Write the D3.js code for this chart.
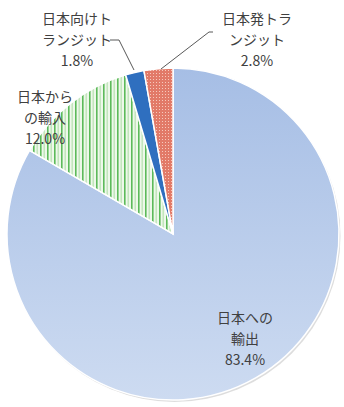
<html>
<head>
<meta charset="utf-8">
<title>日本との貿易</title>
<style>
  body { margin: 0; background: #fff; }
  .lbl { font-family: "Noto Sans CJK JP", sans-serif; font-size: 14px; fill: #404040; text-anchor: middle; }
</style>
</head>
<body>
<script src="https://cdn.jsdelivr.net/npm/d3@7/dist/d3.min.js"></script>
<script>
var width = 344, height = 407;

// データ
var names = ["日本への輸出", "日本からの輸入", "日本向けトランジット", "日本発トランジット"];
var values = [83.4, 12.0, 1.8, 2.8];
var labelLines = [["日本への", "輸出"], ["日本から", "の輸入"], ["日本向けト", "ランジット"], ["日本発トラ", "ンジット"]];

var svg = d3.select("body").append("svg")
  .attr("width", width)
  .attr("height", height);

var defs = svg.append("defs");

// 輸出: 青のグラデーション
var grad = defs.append("linearGradient").attr("id", "gBlue")
  .attr("x1", 0).attr("y1", 0).attr("x2", 0).attr("y2", 1);
grad.append("stop").attr("offset", "0%").attr("stop-color", "#a6bee5");
grad.append("stop").attr("offset", "100%").attr("stop-color", "#cddbf1");

// 輸入: 縦じま
var stripe = defs.append("pattern").attr("id", "pStripe")
  .attr("patternUnits", "userSpaceOnUse").attr("width", 7).attr("height", 7);
stripe.append("rect").attr("width", 7).attr("height", 7).attr("fill", "#eef8ea");
stripe.append("rect").attr("x", 0).attr("width", 1.6).attr("height", 7).attr("fill", "#5cba5a");
stripe.append("rect").attr("x", 3.5).attr("width", 1.4).attr("height", 7).attr("fill", "#bfe5b8");

// 日本発: ドット
var dots = defs.append("pattern").attr("id", "pDots")
  .attr("patternUnits", "userSpaceOnUse").attr("width", 3).attr("height", 3);
dots.append("rect").attr("width", 3).attr("height", 3).attr("fill", "#e27a68");
dots.append("rect").attr("x", 1).attr("y", 1).attr("width", 1).attr("height", 1).attr("fill", "#f6c9bd");

var fills = ["url(#gBlue)", "url(#pStripe)", "#2f6fbf", "url(#pDots)"];

var cx = 173, cy = 234, radius = 166;

var pie = d3.pie().sort(null).value(function(d) { return d; });
var arcs = pie(values);
var arc = d3.arc().innerRadius(0).outerRadius(radius);

var g = svg.append("g").attr("transform", "translate(" + cx + "," + cy + ")");

// 影
g.append("circle").attr("r", radius).attr("cx", 1.5).attr("cy", 2)
  .attr("fill", "#d4d4d4").attr("opacity", 0.8);

g.selectAll(".slice")
  .data(arcs)
  .enter()
  .append("path")
  .attr("class", "slice")
  .attr("d", arc)
  .attr("fill", function(d, i) { return fills[i]; })
  .attr("stroke", "#fff")
  .attr("stroke-width", 1.5);

// ラベル位置
var labelPos = [[245, 323], [45, 102], [77, 24], [257, 24]];
var lineH = 21;

labelLines.forEach(function(lines, i) {
  var t = svg.append("text").attr("class", "lbl");
  var all = lines.concat([values[i].toFixed(1) + "%"]);
  all.forEach(function(s, j) {
    t.append("tspan")
      .attr("x", labelPos[i][0])
      .attr("y", labelPos[i][1] + j * lineH)
      .text(s);
  });
});

// 引き出し線
var lineFn = d3.line();
var leader = [
  [[110, 40], [119, 40], [134, 70]],
  [[213, 32], [209, 32], [161, 69]]
];
leader.forEach(function(pts) {
  svg.append("path")
    .attr("d", lineFn(pts))
    .attr("fill", "none")
    .attr("stroke", "#595959")
    .attr("stroke-width", 1);
});
</script>
</body>
</html>
